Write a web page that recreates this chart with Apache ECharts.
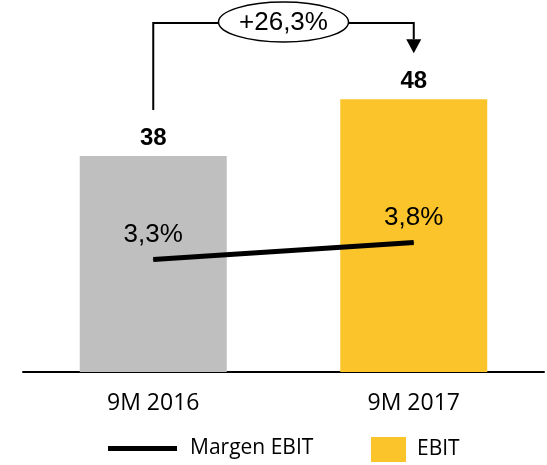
<!DOCTYPE html>
<html>
<head>
<meta charset="utf-8">
<script src="https://cdn.jsdelivr.net/npm/echarts@6/dist/echarts.min.js"></script>
<style>
html,body{margin:0;padding:0;background:#fff;}
#c{width:547px;height:465px;}
</style>
</head>
<body>
<div id="c"></div>
<script>
const categories = ['9M 2016', '9M 2017'];
const ebit = [38, 48];
const margen = [3.3, 3.8];
const growthLabel = '+26,3%';
const barColors = ['#BFBFBF', '#FAC42A'];

const chart = echarts.init(document.getElementById('c'), null, {renderer: 'canvas'});
const fmtPct = v => String(v).replace('.', ',') + '%';

chart.setOption({
  animation: false,
  backgroundColor: '#ffffff',
  grid: {left: 23, right: 3, top: 31, bottom: 93},
  legend: [
    {
      data: [{name: 'Margen EBIT', icon: 'rect', itemStyle: {color: '#000'}}],
      left: 108, top: 438, padding: 0, itemWidth: 69, itemHeight: 5, itemGap: 0,
      textStyle: {fontFamily: 'Open Sans', fontSize: 21, color: '#000', padding: [0, 0, 0, 8]},
      selectedMode: false
    },
    {
      data: [{name: 'EBIT', icon: 'rect', itemStyle: {color: barColors[1]}}],
      left: 371, top: 437, padding: 0, itemWidth: 35, itemHeight: 25,
      textStyle: {fontFamily: 'Open Sans', fontSize: 21, color: '#000', padding: [0, 0, 0, 6]},
      selectedMode: false
    }
  ],
  xAxis: {
    type: 'category',
    data: categories,
    axisLine: {lineStyle: {color: '#000', width: 2}},
    axisTick: {show: false},
    axisLabel: {fontFamily: 'Open Sans', fontSize: 23, color: '#000', margin: 20}
  },
  yAxis: [
    {type: 'value', min: 0, max: 60, show: false, splitLine: {show: false}},
    {type: 'value', min: 0, max: 10, show: false, splitLine: {show: false}}
  ],
  series: [
    {
      name: 'EBIT',
      type: 'bar',
      barWidth: 147,
      itemStyle: {color: barColors[1]},
      data: ebit.map((v, i) => ({value: v, itemStyle: {color: barColors[i]}})),
      label: {
        show: true, position: 'top', distance: 6,
        fontFamily: 'Liberation Sans, Arial', fontWeight: 'bold', fontSize: 24, color: '#000'
      },
      z: 2
    },
    {
      name: 'Margen EBIT',
      type: 'line',
      yAxisIndex: 1,
      data: margen,
      symbol: 'circle',
      symbolSize: 1,
      itemStyle: {color: '#000'},
      lineStyle: {color: '#000', width: 5, cap: 'butt'},
      label: {
        show: true, position: 'top', distance: 11,
        fontFamily: 'Liberation Sans, Arial', fontSize: 26, color: '#000',
        formatter: p => fmtPct(p.value)
      },
      z: 5
    }
  ]
});

const p1 = chart.convertToPixel({xAxisIndex: 0, yAxisIndex: 0}, [0, ebit[0]]);
const p2 = chart.convertToPixel({xAxisIndex: 0, yAxisIndex: 0}, [1, ebit[1]]);
const x1 = p1[0], x2 = p2[0];
const topY = 23;
const leftBottom = p1[1] - 46;
const arrowTip = p2[1] - 46;
const arrowH = 14, arrowW = 15;
const cx = (x1 + x2) / 2;

chart.setOption({
  graphic: [
    {type: 'polyline', z: 10, shape: {points: [[x1, leftBottom], [x1, topY], [x2, topY], [x2, arrowTip - arrowH]]},
     style: {stroke: '#000', lineWidth: 2, fill: null}},
    {type: 'polygon', z: 10, shape: {points: [[x2 - arrowW / 2, arrowTip - arrowH], [x2 + arrowW / 2, arrowTip - arrowH], [x2, arrowTip]]},
     style: {fill: '#000'}},
    {type: 'ellipse', z: 11, shape: {cx: cx, cy: 22, rx: 65, ry: 20},
     style: {fill: '#fff', stroke: '#000', lineWidth: 1.5}},
    {type: 'text', z: 12, x: cx, y: 23,
     style: {text: growthLabel, fill: '#000', font: '26px "Liberation Sans", Arial', textAlign: 'center', textVerticalAlign: 'middle'}}
  ]
});
</script>
</body>
</html>
